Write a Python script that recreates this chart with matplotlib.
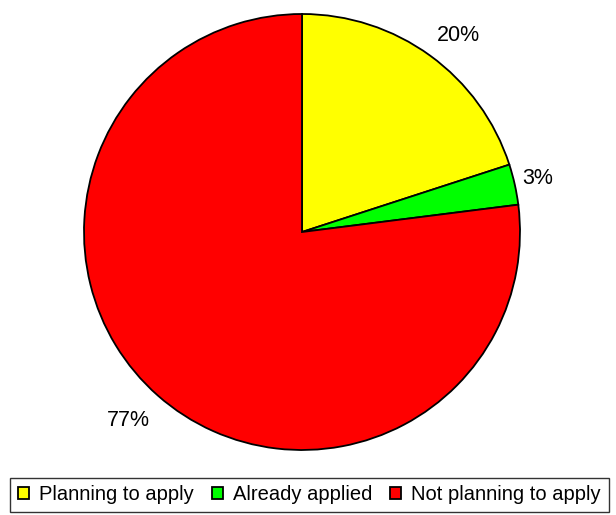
import matplotlib.pyplot as plt
from matplotlib import rc

rc('font', family=['Liberation Sans', 'DejaVu Sans'])

# pie data
labels = ['Planning to apply', 'Already applied', 'Not planning to apply']
shares = [20, 3, 77]
colors = ['#FFFF00', '#00FF00', '#FF0000']
# where the % labels sit, in units of the pie radius
label_pos = [(0.716, 0.902), (1.083, 0.244), (-0.798, -0.866)]

fig = plt.figure(figsize=(6.16, 5.15), dpi=100)
ax = fig.add_axes([84/616, 65/515, 436/616, 436/515])

wedges, texts, autotexts = ax.pie(shares, colors=colors, startangle=90, counterclock=False,
	autopct='%d%%', pctdistance=1.15,
	wedgeprops=dict(edgecolor='black', linewidth=1.3))
for w, t, p in zip(wedges, autotexts, label_pos):
	w.set_clip_on(False)
	t.set_position(p)
	t.set_fontsize(15.5)
	t.set_color('black')

ax.set_xlim(-1, 1)
ax.set_ylim(-1, 1)
ax.set_aspect('equal')

leg = fig.legend(wedges, labels, ncol=3, loc='lower left',
	bbox_to_anchor=(10/616, 3/515), bbox_transform=fig.transFigure,
	fancybox=False, edgecolor='black', fontsize=14.5,
	handlelength=0.55, handleheight=0.55, handletextpad=0.5,
	columnspacing=0.9, borderpad=0.38, borderaxespad=0)
leg.get_frame().set_linewidth(1.0)

plt.savefig('out.png', dpi=100)
